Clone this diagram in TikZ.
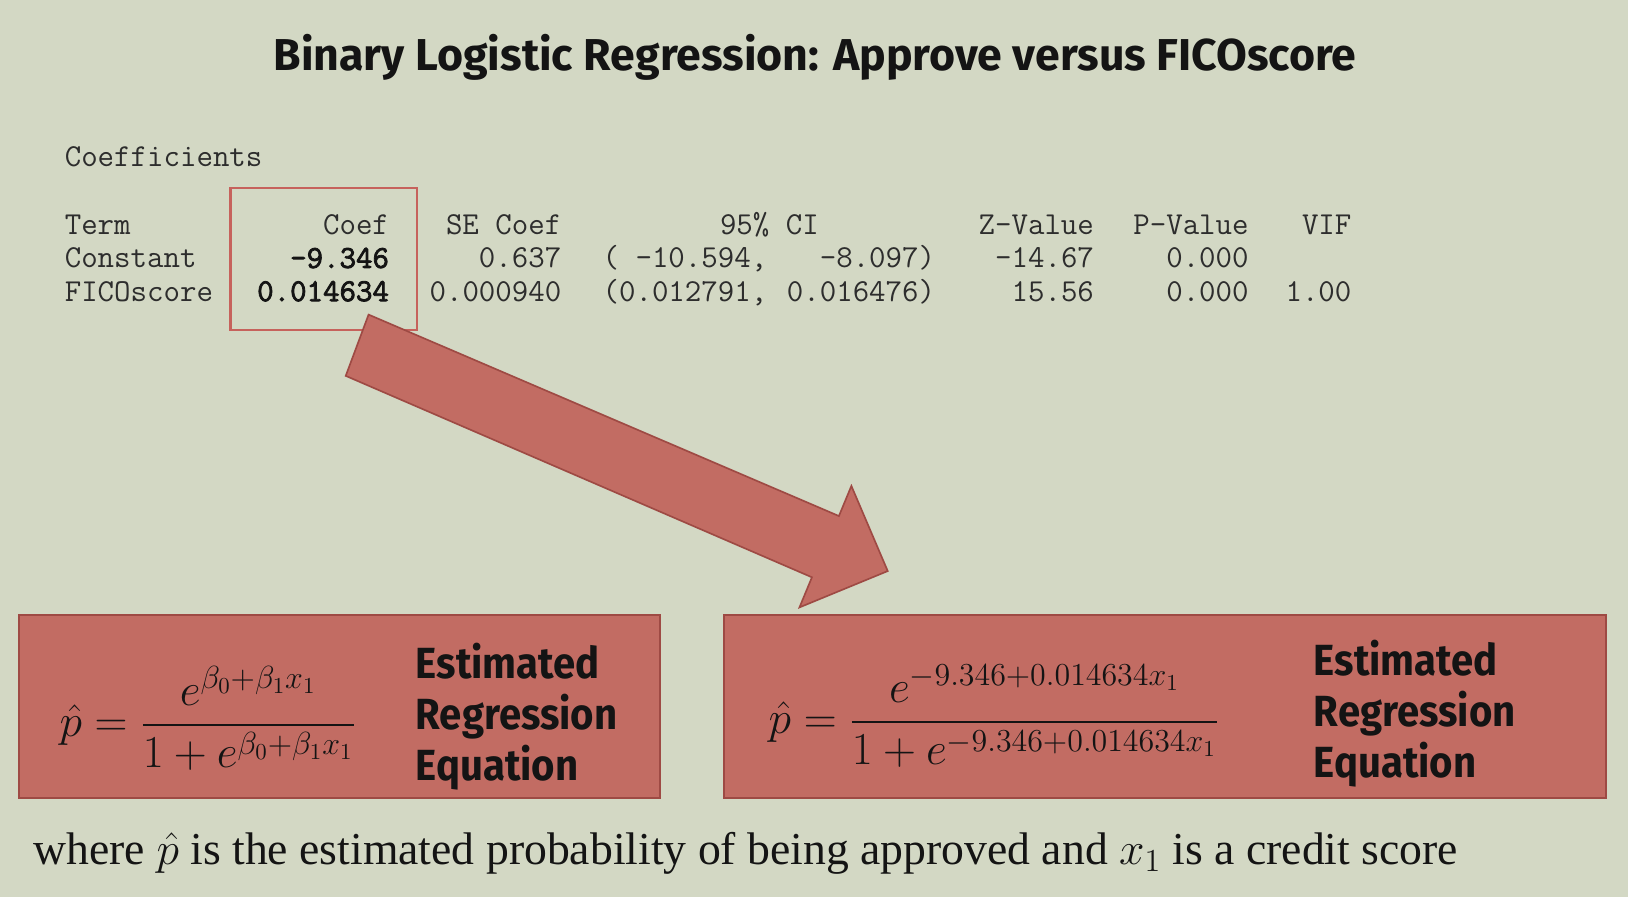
\documentclass[tikz,border=0pt]{standalone}
\usepackage{fix-cm}
\usepackage{amsmath}
\usepackage{fontspec}
\setmainfont{Liberation Serif}
\newfontfamily\titlefont{Fira Sans}
\newfontfamily\labelfont{Fira Sans}[FakeStretch=0.92]
\newfontfamily\tabboldfont{Latin Modern Mono}[FakeBold=2.5]
\definecolor{bg}{RGB}{211,216,196}
\definecolor{boxfill}{RGB}{194,108,99}
\definecolor{boxline}{RGB}{158,74,68}
\definecolor{coefline}{RGB}{198,98,92}
\definecolor{ink}{RGB}{20,20,20}
\definecolor{tabink}{RGB}{45,45,45}
\tikzset{
  tabcell/.style={inner sep=0pt, font=\ttfamily\fontsize{15.4}{19}\selectfont, text=tabink},
  tabbold/.style={tabcell, font=\tabboldfont\fontsize{15.4}{19}\selectfont, text=ink},
  eqbox/.style={draw=boxline, line width=1pt, fill=boxfill, inner sep=0pt},
  eqlabel/.style={anchor=north west, align=left, inner sep=0pt, text=ink,
    font=\labelfont\bfseries\fontsize{21}{24.5}\selectfont},
  eqmath/.style={inner sep=0pt, text=ink, font=\fontsize{22}{26}\selectfont},
  bigarrow/.style={fill=boxfill, draw=boxline, line width=0.8pt, line join=miter}
}
\begin{document}
\begin{tikzpicture}[x=0.5pt,y=-0.5pt]
\fill[bg] (0,0) rectangle (1568,864);
\useasboundingbox (0,0) rectangle (1568,864);

\node[anchor=base, inner sep=0pt, text=ink, font=\titlefont\bfseries\fontsize{21.5}{25}\selectfont] (title) at (785,68) {Binary Logistic Regression: Approve versus FICOscore};

\node[tabcell, anchor=base west] (coefhead) at (62,160) {Coefficients};

% header row
\node[tabcell, anchor=base west] (hterm) at (62,226) {Term};
\node[tabcell, anchor=base east] (hcoef) at (375,226) {Coef};
\node[tabcell, anchor=base east] (hse) at (541,226) {SE Coef};
\node[tabcell, anchor=base east] (hci) at (789,226) {95\% CI};
\node[tabcell, anchor=base east] (hz) at (1054,226) {Z-Value};
\node[tabcell, anchor=base east] (hp) at (1203,226) {P-Value};
\node[tabcell, anchor=base east] (hvif) at (1302,226) {VIF};
% constant row
\node[tabcell, anchor=base west] (rconst) at (62,258) {Constant};
\node[tabbold, anchor=base east] (cconst) at (375,258) {-9.346};
\node[tabcell, anchor=base east] (seconst) at (541,258) {0.637};
\node[tabcell, anchor=base west] (ciconst) at (580,258) {( -10.594,};
\node[tabcell, anchor=base east] (ciconst2) at (901,258) {-8.097)};
\node[tabcell, anchor=base east] (zconst) at (1054,258) {-14.67};
\node[tabcell, anchor=base east] (pconst) at (1203,258) {0.000};
% fico row
\node[tabcell, anchor=base west] (rfico) at (62,290) {FICOscore};
\node[tabbold, anchor=base east] (cfico) at (375,290) {0.014634};
\node[tabcell, anchor=base east] (sefico) at (541,290) {0.000940};
\node[tabcell, anchor=base west] (cifico) at (580,290) {(0.012791,};
\node[tabcell, anchor=base east] (cifico2) at (901,290) {0.016476)};
\node[tabcell, anchor=base east] (zfico) at (1054,290) {15.56};
\node[tabcell, anchor=base east] (pfico) at (1203,290) {0.000};
\node[tabcell, anchor=base east] (vfico) at (1302,290) {1.00};

% highlight box around Coef column
\node[draw=coefline, line width=1pt, minimum width=90pt, minimum height=68.5pt, inner sep=0pt] (coefbox) at (312,249.5) {};

% equation boxes
\node[eqbox, minimum width=309pt, minimum height=88.5pt] (lbox) at (327,680.5) {};
\node[eqbox, minimum width=425pt, minimum height=88.5pt] (rbox) at (1122,680.5) {};

% big arrow from coefficient box to the fitted equation
\draw[bigarrow] (355,303) -- (808,497) -- (820,468) -- (855,550) -- (770,585) -- (782,556) -- (333,362) -- cycle;

% left equation
\node[eqmath, anchor=west] (leq) at (57,692) {$\hat{p} = \dfrac{e^{\beta_0+\beta_1 x_1}}{1+e^{\beta_0+\beta_1 x_1}}$};
\node[eqlabel] (llab) at (400,619) {Estimated\\Regression\\Equation};

% right equation
\node[eqmath, anchor=west] (req) at (740,690) {$\hat{p} = \dfrac{e^{-9.346+0.014634 x_1}}{1+e^{-9.346+0.014634 x_1}}$};
\node[eqlabel] (rlab) at (1265,616) {Estimated\\Regression\\Equation};

% bottom note
\node[anchor=base west, inner sep=0pt, text=ink, font=\fontsize{22}{26}\selectfont] (note) at (32,833) {where $\hat{p}$ is the estimated probability of being approved and $x_1$ is a credit score};
\end{tikzpicture}
\end{document}
